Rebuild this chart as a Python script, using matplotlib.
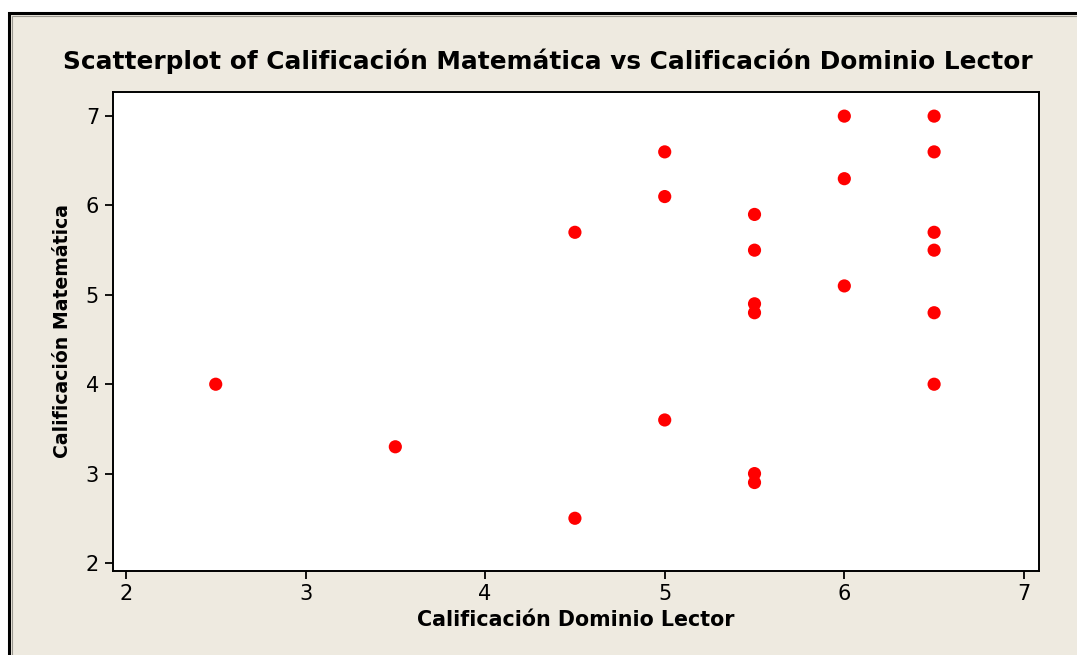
import matplotlib
matplotlib.use("Agg")
import matplotlib.pyplot as plt
from matplotlib.patches import Rectangle

# Data
dominio_lector = [2.5, 3.5, 4.5, 4.5, 5.0, 5.0, 5.0,
                  5.5, 5.5, 5.5, 5.5, 5.5, 5.5,
                  6.0, 6.0, 6.0,
                  6.5, 6.5, 6.5, 6.5, 6.5, 6.5]
matematica = [4.0, 3.3, 5.7, 2.5, 6.6, 6.1, 3.6,
              5.9, 5.5, 4.9, 4.8, 3.0, 2.9,
              7.0, 6.3, 5.1,
              7.0, 6.6, 5.7, 5.5, 4.8, 4.0]
x_ticks = [2, 3, 4, 5, 6, 7]
y_ticks = [2, 3, 4, 5, 6, 7]

title = "Scatterplot of Calificación Matemática vs Calificación Dominio Lector"
xlabel = "Calificación Dominio Lector"
ylabel = "Calificación Matemática"

W, H = 1077, 655
fig = plt.figure(figsize=(W / 100, H / 100), dpi=100, facecolor="white")

def fx(px):
    return px / W

def fy(py):
    return 1 - py / H

# beige panel with double border (black outer, grey inner)
r1 = Rectangle((fx(9), fy(H + 20)), fx(W + 40), (H + 20 - 13) / H,
               transform=fig.transFigure, facecolor="#EEEAE0",
               edgecolor="black", linewidth=2.2, zorder=-10)
r2 = Rectangle((fx(12), fy(H + 20)), fx(W + 40), (H + 20 - 16) / H,
               transform=fig.transFigure, facecolor="none",
               edgecolor="#9A9890", linewidth=0.8, zorder=-9)
fig.patches.extend([r1, r2])

ax = fig.add_axes([fx(113), fy(571), fx(1039) - fx(113), fy(92) - fy(571)])
ax.set_zorder(5)
ax.set_facecolor("white")
ax.scatter(dominio_lector, matematica, s=90, color="#FF0000", edgecolors="none", zorder=3)

ax.set_xlim(1.928, 7.084)
ax.set_ylim(1.91, 7.27)
ax.set_xticks(x_ticks)
ax.set_yticks(y_ticks)
ax.tick_params(axis="both", direction="out", length=6, width=1.3, labelsize=15,
               colors="black")
ax.tick_params(axis="x", pad=3.5)
ax.tick_params(axis="y", pad=4)
for sp in ax.spines.values():
    sp.set_linewidth(1.4)
    sp.set_color("black")

ax.set_xlabel(xlabel, fontsize=14.9, fontweight="bold", labelpad=4)
ax.set_ylabel(ylabel, fontsize=13.6, fontweight="bold", labelpad=10)

fig.text(fx(548), fy(61), title, ha="center", va="center",
         fontsize=17.8, fontweight="bold", zorder=6)

fig.savefig("out.png", dpi=100, facecolor=fig.get_facecolor())
